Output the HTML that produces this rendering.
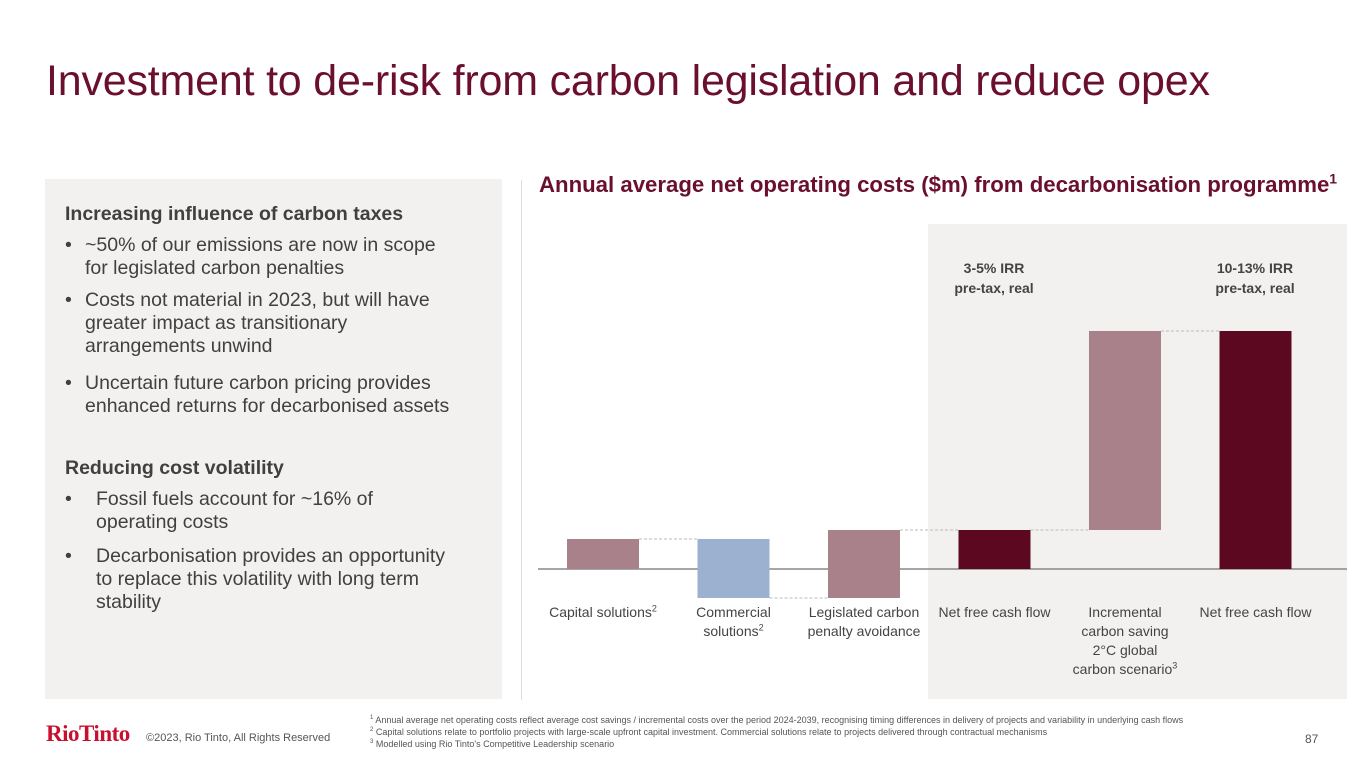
<!DOCTYPE html>
<html><head><meta charset="utf-8"><style>
body{margin:0;width:1365px;height:768px;background:#fff;font-family:"Liberation Sans",sans-serif;position:relative;overflow:hidden}
.abs{position:absolute}
h1{position:absolute;left:46px;top:57px;margin:0;font-weight:normal;font-size:43px;color:#6a0f2e;letter-spacing:-0.2px}
#left{left:45px;top:179px;width:457px;height:520px;background:#f2f1ef}
#left div{position:absolute;font-size:19.5px;color:#404040;line-height:23px;white-space:nowrap}
.h{font-weight:bold;color:#404040}
.b{padding-left:20px;text-indent:-20px}
.b2{padding-left:31px;text-indent:-31px}
.b i,.b2 i{font-style:normal;display:inline-block;width:20px;text-indent:0}
.b2 i{width:31px}
sup{vertical-align:super;line-height:0}
.lbl{position:absolute;font-size:14px;color:#444;text-align:center;width:130px;line-height:19px}
.lbl sup{font-size:9px}
.irr{position:absolute;font-size:14px;font-weight:bold;color:#444;text-align:center;width:130px;line-height:20px}
</style></head><body>
<h1>Investment to de-risk from carbon legislation and reduce opex</h1>
<div id="left" class="abs">
<div class="h" style="left:20px;top:24px">Increasing influence of carbon taxes</div>
<div class="b" style="left:20px;top:55px"><i>•</i>~50% of our emissions are now in scope<br>for legislated carbon penalties</div>
<div class="b" style="left:20px;top:110px"><i>•</i>Costs not material in 2023, but will have<br>greater impact as transitionary<br>arrangements unwind</div>
<div class="b" style="left:20px;top:193px"><i>•</i>Uncertain future carbon pricing provides<br>enhanced returns for decarbonised assets</div>
<div class="h" style="left:20px;top:278px">Reducing cost volatility</div>
<div class="b2" style="left:20px;top:309px"><i>•</i>Fossil fuels account for ~16% of<br>operating costs</div>
<div class="b2" style="left:20px;top:366px"><i>•</i>Decarbonisation provides an opportunity<br>to replace this volatility with long term<br>stability</div>
</div>
<div class="abs" style="left:521px;top:180px;width:1px;height:520px;background:#ddd"></div>
<div class="abs" style="left:539px;top:172px;font-size:22.2px;font-weight:bold;color:#6a0f2e;white-space:nowrap">Annual average net operating costs ($m) from decarbonisation programme<sup style="font-size:14px">1</sup></div>
<div class="abs" style="left:928px;top:224px;width:419px;height:475px;background:#f2f1ef"></div>
<div class="irr" style="left:929px;top:258px">3-5% IRR<br>pre-tax, real</div>
<div class="irr" style="left:1190px;top:258px">10-13% IRR<br>pre-tax, real</div>
<svg id="chart" class="abs" style="left:0;top:0" width="1365" height="768"></svg>
<div id="labels"></div>
<div class="abs" style="left:46px;top:721px;font-family:'Liberation Serif',serif;font-size:23px;color:#c8102e;font-weight:bold;letter-spacing:-0.5px">RioTinto</div>
<div class="abs" style="left:146px;top:732px;font-size:11px;color:#555">©2023, Rio Tinto, All Rights Reserved</div>
<div class="abs" style="left:370px;top:714px;font-size:9px;color:#555;line-height:12px;white-space:nowrap"><sup style="font-size:6px">1</sup> Annual average net operating costs reflect average cost savings / incremental costs over the period 2024-2039, recognising timing differences in delivery of projects and variability in underlying cash flows<br><sup style="font-size:6px">2</sup> Capital solutions relate to portfolio projects with large-scale upfront capital investment. Commercial solutions relate to projects delivered through contractual mechanisms<br><sup style="font-size:6px">3</sup> Modelled using Rio Tinto's Competitive Leadership scenario</div>
<div class="abs" style="left:1305px;top:732px;font-size:12px;color:#555">87</div>
<script>
const categories=["Capital solutions<sup>2</sup>","Commercial<br>solutions<sup>2</sup>","Legislated carbon<br>penalty avoidance","Net free cash flow","Incremental<br>carbon saving<br>2°C global<br>carbon scenario<sup>3</sup>","Net free cash flow"];
const values=[30,-59,68,39,199,238];
const isTotal=[false,false,false,true,false,true];
const colors=["#a8818b","#9cb0cf","#a8818b","#5b0820","#a8818b","#5b0820"];
const svg=document.getElementById('chart');
const NS="http://www.w3.org/2000/svg";
const y0=569, x0=567, step=130.5, bw=72;
const y=v=>y0-v;
const x=i=>x0+i*step;
function mk(t,a){const e=document.createElementNS(NS,t);for(const k in a)e.setAttribute(k,a[k]);svg.appendChild(e);return e;}
const ax=mk('line',{x1:538,x2:1347,y1:y0,y2:y0,stroke:'#888','stroke-width':1.5});


let cum=0;
const labDiv=document.getElementById('labels');
values.forEach((v,i)=>{
 let a,b;
 if(isTotal[i]){a=0;b=v;cum=v;}else{a=cum;b=cum+v;cum=b;}
 const top=Math.min(y(a),y(b)),h=Math.abs(v);
 const r=mk('rect',{x:x(i),y:top,width:bw,height:h,fill:colors[i]});
 
 
 if(i<values.length-1){
  const l=mk('line',{x1:x(i)+bw,x2:x(i+1),y1:y(cum),y2:y(cum),stroke:'#bbb','stroke-width':1,'stroke-dasharray':'3,2'});
  
  
 }
 const d=document.createElement('div');
 d.className='lbl';d.style.left=(x(i)+bw/2-65)+'px';d.style.top='603px';d.innerHTML=categories[i];
 
 
 labDiv.appendChild(d);
});
</script>
</body></html>
